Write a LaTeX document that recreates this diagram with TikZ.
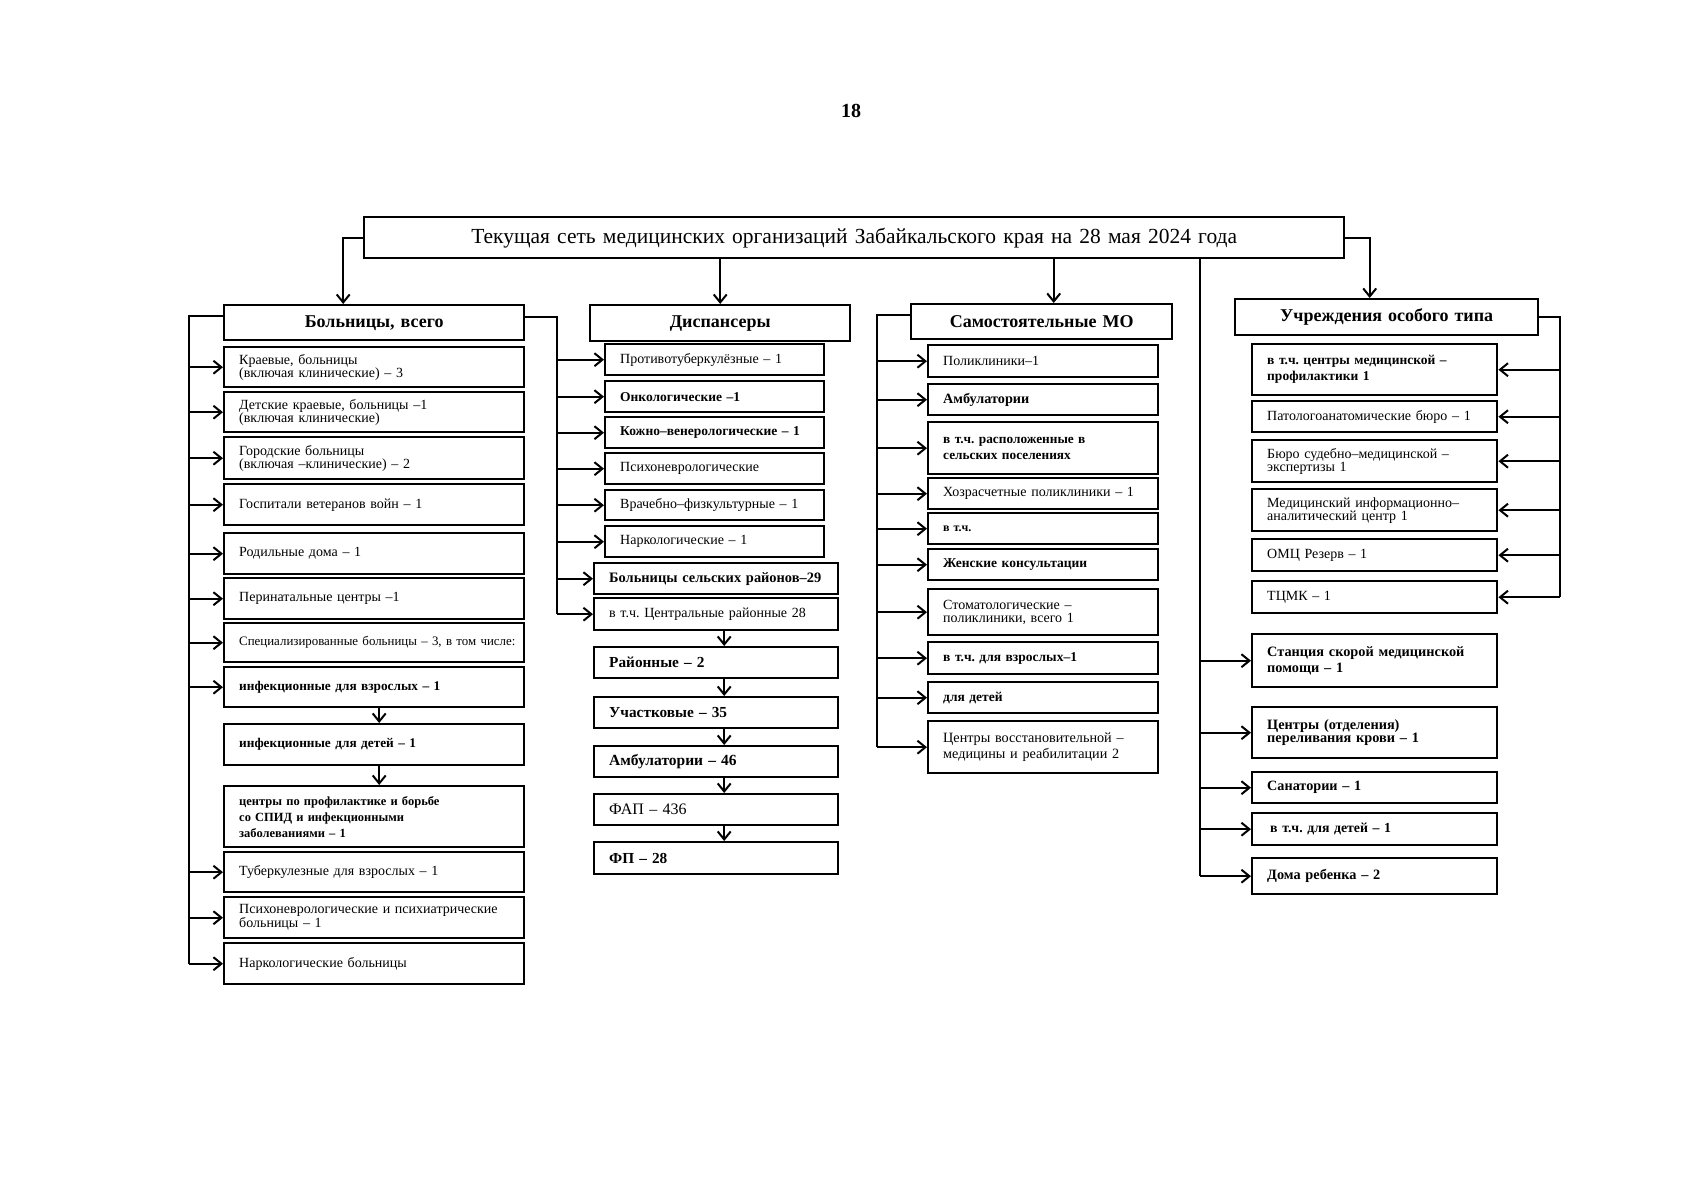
\documentclass[tikz,border=0pt]{standalone}
\usepackage{fontspec}
\setmainfont{Liberation Serif}
\usetikzlibrary{arrows.meta}
\newcommand\myfs[2]{\fontsize{#1}{#2}\selectfont}
\tikzset{
  bx/.style={draw, line width=2.4pt, inner xsep=15pt, inner ysep=0pt, align=left, font=\myfs{14}{13}, anchor=north west},
  hd/.style={align=center, font=\bfseries\myfs{18}{18}},
  bd/.style={font=\bfseries\myfs{13.8}{14}},
  conn/.style={line width=2pt},
  arr/.style={conn, -{Straight Barb[length=8pt,width=13pt,line width=2pt]}},
}
\newcommand\mkbox[7][]{%
  \pgfmathsetmacro\mkW{#5-#3}%
  \pgfmathsetmacro\mkH{#6-#4}%
  \pgfmathsetmacro\mkT{#5-#3-30}%
  \node[bx,minimum width=\mkW pt,minimum height=\mkH pt,text width=\mkT pt,#1] (#2) at (#3,#4) {\frenchspacing #7};}
\begin{document}
\begin{tikzpicture}[x=1pt,y=-1pt]
\fill[white] (0,0) rectangle (1685,1200);
\useasboundingbox (0,0) rectangle (1685,1200);

\node[font=\bfseries\myfs{20}{20}] (pg) at (851,111) {18};
\mkbox[align=center,font=\myfs{21.5}{21.5}]{top}{363}{216}{1343}{257}{Текущая сеть медицинских организаций Забайкальского края на 28 мая 2024 года}

% Bolnitsy
\mkbox[hd]{b0}{223}{304}{523}{339}{Больницы, всего}
\mkbox{b1}{223}{346}{523}{386}{Краевые, больницы\\(включая клинические) – 3}
\mkbox{b2}{223}{391}{523}{431}{Детские краевые, больницы –1\\(включая клинические)}
\mkbox{b3}{223}{436}{523}{478}{Городские больницы\\(включая –клинические) – 2}
\mkbox{b4}{223}{483}{523}{524}{Госпитали ветеранов войн – 1}
\mkbox{b5}{223}{532}{523}{573}{Родильные дома – 1}
\mkbox{b6}{223}{577}{523}{618}{Перинатальные центры –1}
\mkbox[font=\myfs{12.9}{13}]{b7}{223}{622}{523}{661}{\mbox{Специализированные больницы – 3, в том числе:}}
\mkbox[font=\bfseries\myfs{13.3}{14}]{b8}{223}{666}{523}{706}{инфекционные для взрослых – 1}
\mkbox[font=\bfseries\myfs{13.3}{14}]{b9}{223}{723}{523}{764}{инфекционные для детей – 1}
\mkbox[font=\bfseries\myfs{12.5}{16}]{b10}{223}{785}{523}{846}{центры по профилактике и борьбе\\со СПИД и инфекционными\\заболеваниями – 1}
\mkbox{b11}{223}{851}{523}{891}{Туберкулезные для взрослых – 1}
\mkbox{b12}{223}{896}{523}{937}{Психоневрологические и психиатрические\\больницы – 1}
\mkbox{b13}{223}{942}{523}{983}{Наркологические больницы}

% Dispansery
\mkbox[hd]{d0}{589}{304}{849}{340}{Диспансеры}
\mkbox{d1}{604}{343}{823}{374}{Противотуберкулёзные – 1}
\mkbox[font=\bfseries\myfs{13.5}{14}]{d2}{604}{380}{823}{411}{Онкологические –1}
\mkbox[font=\bfseries\myfs{13.5}{14}]{d3}{604}{416}{823}{447}{Кожно–венерологические – 1}
\mkbox{d4}{604}{452}{823}{483}{Психоневрологические}
\mkbox{d5}{604}{489}{823}{519}{Врачебно–физкультурные – 1}
\mkbox{d6}{604}{525}{823}{556}{Наркологические – 1}
\mkbox[font=\bfseries\myfs{14.4}{14}]{d7}{593}{562}{837}{593}{Больницы сельских районов–29}
\mkbox{d8}{593}{597}{837}{629}{в т.ч. Центральные районные 28}
\mkbox[font=\bfseries\myfs{15.3}{15}]{d9}{593}{646}{837}{677}{Районные – 2}
\mkbox[font=\bfseries\myfs{15.3}{15}]{d10}{593}{696}{837}{727}{Участковые – 35}
\mkbox[font=\bfseries\myfs{15.5}{15}]{d11}{593}{745}{837}{776}{Амбулатории – 46}
\mkbox[font=\myfs{16}{16}]{d12}{593}{793}{837}{824}{ФАП – 436}
\mkbox[font=\bfseries\myfs{15.3}{15}]{d13}{593}{841}{837}{873}{ФП – 28}

% Samostoyatelnye
\mkbox[hd]{s0}{910}{303}{1171}{338}{Самостоятельные МО}
\mkbox{s1}{927}{344}{1157}{376}{Поликлиники–1}
\mkbox[font=\bfseries\myfs{14.2}{14}]{s2}{927}{383}{1157}{414}{Амбулатории}
\mkbox[font=\bfseries\myfs{13.3}{16}]{s3}{927}{421}{1157}{473}{в т.ч. расположенные в\\сельских поселениях}
\mkbox{s4}{927}{477}{1157}{508}{Хозрасчетные поликлиники – 1}
\mkbox[font=\bfseries\myfs{12}{12}]{s5}{927}{512}{1157}{543}{в т.ч.}
\mkbox[font=\bfseries\myfs{13.5}{14}]{s6}{927}{548}{1157}{579}{Женские консультации}
\mkbox{s7}{927}{588}{1157}{634}{Стоматологические –\\поликлиники, всего 1}
\mkbox[font=\bfseries\myfs{13.5}{14}]{s8}{927}{641}{1157}{673}{в т.ч. для взрослых–1}
\mkbox[font=\bfseries\myfs{13.5}{14}]{s9}{927}{681}{1157}{712}{для детей}
\mkbox[font=\myfs{14.2}{16}]{s10}{927}{720}{1157}{772}{Центры восстановительной –\\медицины и реабилитации 2}

% Uchrezhdeniya
\mkbox[hd]{u0}{1234}{298}{1537}{334}{Учреждения особого типа}
\mkbox[font=\bfseries\myfs{13.5}{16}]{u1}{1251}{343}{1496}{394}{в т.ч. центры медицинской –\\профилактики 1}
\mkbox{u2}{1251}{400}{1496}{431}{Патологоанатомические бюро – 1}
\mkbox{u3}{1251}{439}{1496}{481}{Бюро судебно–медицинской –\\экспертизы 1}
\mkbox{u4}{1251}{488}{1496}{530}{Медицинский информационно–\\аналитический центр 1}
\mkbox{u5}{1251}{538}{1496}{570}{ОМЦ Резерв – 1}
\mkbox{u6}{1251}{580}{1496}{612}{ТЦМК – 1}

% right lower
\mkbox[font=\bfseries\myfs{14.3}{16}]{r1}{1251}{633}{1496}{686}{Станция скорой медицинской\\помощи – 1}
\mkbox[font=\bfseries\myfs{14.3}{13.5}]{r2}{1251}{706}{1496}{757}{Центры (отделения)\\переливания крови – 1}
\mkbox[font=\bfseries\myfs{14.2}{14}]{r3}{1251}{771}{1496}{802}{Санатории – 1}
\mkbox[font=\bfseries\myfs{13.8}{14}]{r4}{1251}{812}{1496}{844}{\hspace{3pt}в т.ч. для детей – 1}
\mkbox[font=\bfseries\myfs{14.3}{14}]{r5}{1251}{857}{1496}{893}{Дома ребенка – 2}

% connectors from top
\draw[arr] (top.west) -| ([xshift=-31pt]b0.north);
\draw[arr] (top.south -| d0.north) -- (d0.north);
\coordinate (sA) at ([xshift=12pt]s0.north);
\draw[arr] (top.south -| sA) -- (sA);
\draw[arr] (top.east) -| ([xshift=-17pt]u0.north);
\coordinate (rb) at (1200,0);
\draw[conn] (top.south -| rb) -- (rb |- r5.west);
\foreach \n in {r1,r2,r3,r4,r5} \draw[arr] (rb |- \n.west) -- (\n.west);

% Bolnitsy left bus
\coordinate (lb) at (189,0);
\draw[conn] ([yshift=7pt]b0.west) -| (lb |- b13.west);
\foreach \n in {b1,b2,b3,b4,b5,b6,b7,b8,b11,b12,b13} \draw[arr] (lb |- \n.west) -- (\n.west);
\draw[arr] ([xshift=5pt]b8.south) -- ([xshift=5pt]b9.north);
\draw[arr] ([xshift=5pt]b9.south) -- ([xshift=5pt]b10.north);

% Bolnitsy right bus to dispansery items
\coordinate (mb) at (557,0);
\draw[conn] ([yshift=6pt]b0.east) -| (mb |- d8.west);
\foreach \n in {d1,d2,d3,d4,d5,d6,d7,d8} \draw[arr] (mb |- \n.west) -- (\n.west);
\draw[arr] ([xshift=8pt]d8.south) -- ([xshift=8pt]d9.north);
\draw[arr] ([xshift=8pt]d9.south) -- ([xshift=8pt]d10.north);
\draw[arr] ([xshift=8pt]d10.south) -- ([xshift=8pt]d11.north);
\draw[arr] ([xshift=8pt]d11.south) -- ([xshift=8pt]d12.north);
\draw[arr] ([xshift=8pt]d12.south) -- ([xshift=8pt]d13.north);

% Samost bus
\coordinate (sb) at (877,0);
\draw[conn] ([yshift=7pt]s0.west) -| (sb |- s10.west);
\foreach \n in {s1,s2,s3,s4,s5,s6,s7,s8,s9,s10} \draw[arr] (sb |- \n.west) -- (\n.west);

% Uchrezh bus
\coordinate (ub) at (1560,0);
\draw[conn] (u0.east) -| (ub |- u6.east);
\foreach \n in {u1,u2,u3,u4,u5,u6} \draw[arr] (ub |- \n.east) -- (\n.east);
\end{tikzpicture}
\end{document}
